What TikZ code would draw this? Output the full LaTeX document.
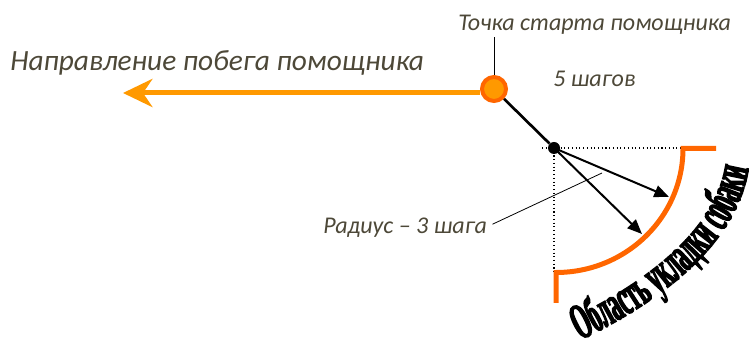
\documentclass[tikz,border=0pt]{standalone}
\usepackage{fontspec}
\setmainfont{Carlito}
\newfontfamily\wafont{Liberation Serif}[FakeStretch=0.44,FakeBold=2.5]
\usetikzlibrary{arrows.meta,decorations.text}
\definecolor{txtc}{RGB}{77,72,56}
\definecolor{lorange}{HTML}{FF9900}
\definecolor{dorange}{HTML}{FF6600}
\tikzset{
  lbl/.style={font=\itshape\fontsize{18}{21}\selectfont, text=txtc, inner sep=0pt},
  biglbl/.style={font=\itshape\fontsize{22}{26}\selectfont, text=txtc, inner sep=0pt},
  startc/.style={circle, draw=dorange, fill=lorange, line width=3pt, minimum size=18pt, inner sep=0pt},
  dotc/.style={circle, fill=black, minimum size=9pt, inner sep=0pt},
  steparrow/.style={line width=1.5pt, -{Triangle[length=11pt,width=9pt]}},
}
\begin{document}
\begin{tikzpicture}[x=0.75pt,y=-0.75pt]
\useasboundingbox (0,0) rectangle (749,341);
% texts
\node[biglbl, anchor=base west] (dir) at (10,71) {Направление побега помощника};
\node[lbl, anchor=base west] (startlbl) at (458,31) {Точка старта помощника};
\node[lbl, anchor=base west] (steps) at (553,87) {5 шагов};
\node[lbl, anchor=base west] (rad) at (323,234) {Радиус – 3 шага};
% dotted guides
\node[dotc] (dot) at (554,148) {};
\coordinate (hend) at (683,148);
\coordinate (hbeg) at (542,148);
\coordinate (vend) at (554,273);
\draw[dotted, line width=0.8pt] (hbeg) -- (hend);
\draw[dotted, line width=0.8pt] (dot.center) -- (vend);
% orange region boundary
\coordinate (rtop) at (716,148.5);
\coordinate (rbot) at (556,303);
\draw[dorange, line width=3.75pt] (rtop) -- (683,148.5)
   arc[start angle=0, end angle=90, x radius=127, y radius=124] -- (rbot);
% radius leader
\coordinate (radend) at (602,173);
\draw[line width=0.6pt] ([xshift=4pt,yshift=3pt]rad.east) -- (radend);
% start point
\node[startc] (start) at (494,89) {};
\coordinate (toptip) at (494,37);
\draw[line width=0.6pt] (start.north) -- (toptip);
\coordinate (escape) at (123,93);
\draw[lorange, line width=3.75pt, -{Stealth[length=22pt,width=21pt,inset=7pt]}] ([yshift=-3pt]start.west) -- (escape);
\draw[line width=2pt] (start) -- (dot);
% radius arrows
\coordinate (t1) at (669,197);
\coordinate (t2) at (642,234);
\draw[steparrow] (dot.center) -- (t1);
\draw[steparrow] (dot.center) -- (t2);
% curved label
\path[decorate, decoration={text along path, text align=center,
   text={|\wafont\bfseries\fontsize{38}{38}\selectfont|Область укладки собаки}}]
   (570,345) .. controls (648,309) and (743,248) .. (750,157);
\end{tikzpicture}
\end{document}
